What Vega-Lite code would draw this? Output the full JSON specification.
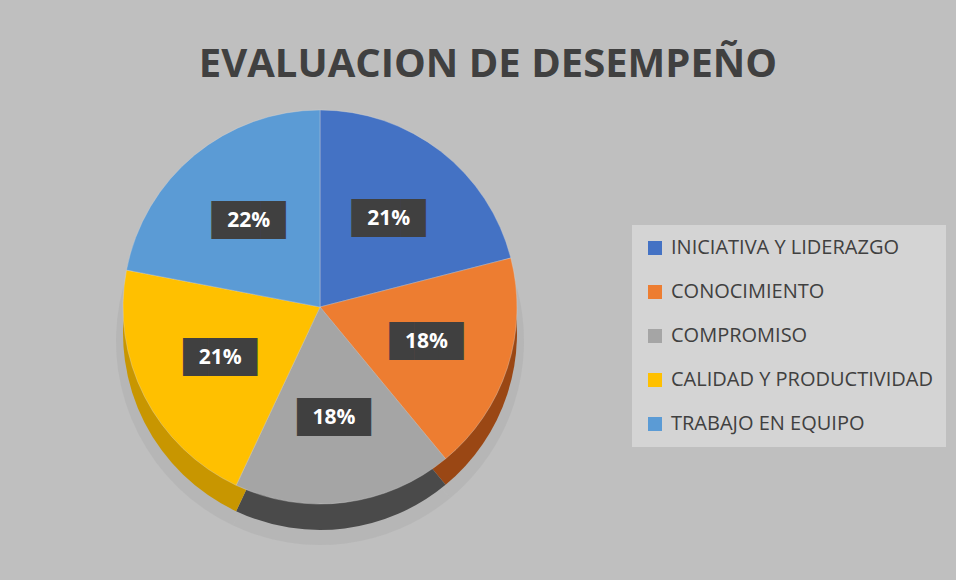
{
  "$schema": "https://vega.github.io/schema/vega-lite/v6.json",
  "autosize": {"type": "none"},
  "width": 624,
  "height": 414,
  "padding": {"left": 8, "top": 100, "right": 324, "bottom": 66},
  "background": "#bfbfbf",
  "config": {"view": {"stroke": null}},
  "title": {
    "text": "EVALUACION DE DESEMPEÑO",
    "font": "Open Sans",
    "fontSize": 40,
    "fontWeight": "bold",
    "color": "#404040",
    "anchor": "middle",
    "dx": 168,
    "baseline": "alphabetic",
    "offset": -17
  },
  "data": {
    "values": [
      {"criterio": "INICIATIVA Y LIDERAZGO", "valor": 0.21, "orden": 1},
      {"criterio": "CONOCIMIENTO", "valor": 0.18, "orden": 2},
      {"criterio": "COMPROMISO", "valor": 0.18, "orden": 3},
      {"criterio": "CALIDAD Y PRODUCTIVIDAD", "valor": 0.21, "orden": 4},
      {"criterio": "TRABAJO EN EQUIPO", "valor": 0.22, "orden": 5}
    ]
  },
  "layer": [
    {
      "mark": {"type": "arc", "outerRadius": 204, "yOffset": 34, "color": "#b0b0b0", "opacity": 0.6},
      "encoding": {
        "theta": {"field": "valor", "type": "quantitative", "stack": true},
        "order": {"field": "orden", "type": "quantitative"}
      }
    },
    {
      "mark": {"type": "arc", "outerRadius": 197, "yOffset": 26},
      "encoding": {
        "theta": {"field": "valor", "type": "quantitative", "stack": true},
        "order": {"field": "orden", "type": "quantitative"},
        "color": {
          "field": "criterio",
          "type": "nominal",
          "scale": {
            "domain": ["INICIATIVA Y LIDERAZGO", "CONOCIMIENTO", "COMPROMISO", "CALIDAD Y PRODUCTIVIDAD", "TRABAJO EN EQUIPO"],
            "range": ["#2f528f", "#9a4714", "#4a4a4a", "#c89600", "#3d6f9c"]
          },
          "legend": null
        }
      }
    },
    {
      "mark": {"type": "arc", "outerRadius": 197, "stroke": "#d9d9d9", "strokeWidth": 0.6, "strokeOpacity": 0.6},
      "encoding": {
        "theta": {"field": "valor", "type": "quantitative", "stack": true},
        "order": {"field": "orden", "type": "quantitative"},
        "color": {
          "field": "criterio",
          "type": "nominal",
          "sort": ["INICIATIVA Y LIDERAZGO", "CONOCIMIENTO", "COMPROMISO", "CALIDAD Y PRODUCTIVIDAD", "TRABAJO EN EQUIPO"],
          "scale": {
            "domain": ["INICIATIVA Y LIDERAZGO", "CONOCIMIENTO", "COMPROMISO", "CALIDAD Y PRODUCTIVIDAD", "TRABAJO EN EQUIPO"],
            "range": ["#4472c4", "#ed7d31", "#a5a5a5", "#ffc000", "#5b9bd5"]
          },
          "legend": {
            "title": null,
            "orient": "none",
            "legendX": 624,
            "legendY": 125,
            "fillColor": "#d4d4d4",
            "padding": 13,
            "symbolType": "square",
            "symbolSize": 196,
            "symbolStrokeWidth": 0,
            "symbolOpacity": 1,
            "labelFont": "Open Sans",
            "labelFontSize": 20,
            "labelColor": "#404040",
            "labelOffset": 6,
            "labelLimit": 400,
            "rowPadding": 24
          }
        }
      }
    },
    {
      "mark": {"type": "text", "radius": 112, "text": "███", "font": "DejaVu Sans", "fontSize": 32, "color": "#404040", "baseline": "middle", "align": "center"},
      "encoding": {
        "theta": {"field": "valor", "type": "quantitative", "stack": true},
        "order": {"field": "orden", "type": "quantitative"}
      }
    },
    {
      "mark": {"type": "text", "radius": 112, "font": "Open Sans", "fontSize": 21, "fontWeight": "bold", "color": "#ffffff", "baseline": "middle", "align": "center"},
      "encoding": {
        "theta": {"field": "valor", "type": "quantitative", "stack": true},
        "order": {"field": "orden", "type": "quantitative"},
        "text": {"field": "valor", "type": "quantitative", "format": ".0%"}
      }
    }
  ],
  "resolve": {"scale": {"color": "independent"}}
}
